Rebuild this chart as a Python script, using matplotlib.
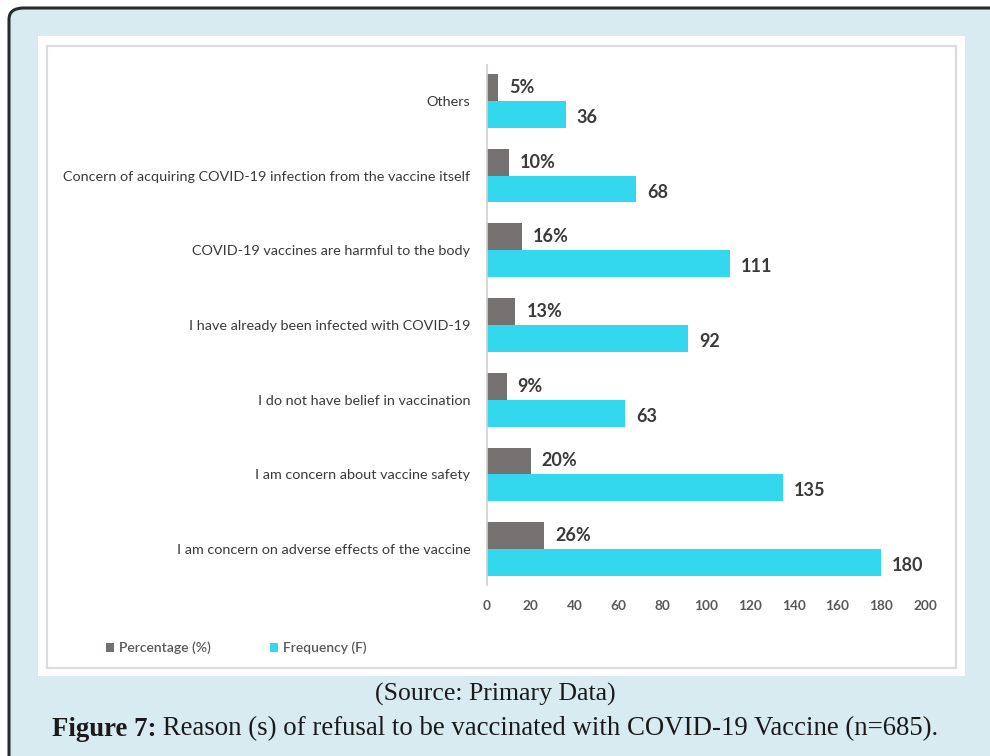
import numpy as np
import matplotlib.pyplot as plt
from matplotlib.patches import FancyBboxPatch, Rectangle

# Data (top to bottom)
reasons = [
    'Others',
    'Concern of acquiring COVID-19 infection from the vaccine itself',
    'COVID-19 vaccines are harmful to the body',
    'I have already been infected with COVID-19',
    'I do not have belief in vaccination',
    'I am concern about vaccine safety',
    'I am concern on adverse effects of the vaccine',
]
percentage = [5, 10, 16, 13, 9, 20, 26]
frequency = [36, 68, 111, 92, 63, 135, 180]
xticks = [0, 20, 40, 60, 80, 100, 120, 140, 160, 180, 200]

GRAY = '#767171'
CYAN = '#33D8EE'
TXT = '#3a3a3a'
W, H = 990, 756

fig = plt.figure(figsize=(9.9, 7.56), dpi=100)
fig.patch.set_facecolor('white')

def px(x0, y0, x1, y1):
    # pixel box (top-left origin) -> figure fraction rect
    return (x0 / W, 1 - y1 / H, (x1 - x0) / W, (y1 - y0) / H)

# outer rounded panel
x, y, w, h = px(9, 8, 1030, 800)
fig.patches.append(FancyBboxPatch((x, y), w, h, boxstyle='round,pad=0,rounding_size=0.015',
                                  transform=fig.transFigure, facecolor='#D7EBF0',
                                  edgecolor='#2a2a2a', linewidth=2.2, zorder=0))
# white chart card with light grey frame
x, y, w, h = px(38, 36, 965, 676)
fig.patches.append(Rectangle((x, y), w, h, transform=fig.transFigure,
                             facecolor='white', edgecolor='none', zorder=1))
x, y, w, h = px(47, 46, 956, 668)
fig.patches.append(Rectangle((x, y), w, h, transform=fig.transFigure,
                             facecolor='white', edgecolor='#DCDCDC', linewidth=1.6, zorder=2))

ax = fig.add_axes(px(487, 65, 925, 585))
ax.set_facecolor('none')
ax.set_zorder(3)

n = len(reasons)
ypos = np.arange(n)[::-1]
bh = 0.36
ax.barh(ypos + bh / 2, percentage, height=bh, color=GRAY, label='Percentage (%)')
ax.barh(ypos - bh / 2, frequency, height=bh, color=CYAN, label='Frequency (F)')

lab_font = dict(family=['Lato', 'DejaVu Sans'], fontsize=13, fontweight='bold', color=TXT)
for yy, p, f in zip(ypos, percentage, frequency):
    ax.text(p + 5, yy + bh / 2, f'{p}%', va='center', ha='left', **lab_font)
    ax.text(f + 5, yy - bh / 2 - 0.04, f'{f}', va='center', ha='left', **lab_font)

ax.set_xlim(0, 200)
ax.set_ylim(-0.48, n - 0.52)
ax.set_yticks(ypos)
ax.set_yticklabels(reasons, family=['Lato', 'DejaVu Sans'], fontsize=10.4, color=TXT)
ax.set_xticks(xticks)
ax.set_xticklabels([str(t) for t in xticks], family=['Lato', 'DejaVu Sans'],
                   fontsize=9.8, color='#595959', fontweight='bold')
ax.tick_params(axis='y', length=0, pad=12)
ax.tick_params(axis='x', length=0, pad=11)
for s in ['top', 'right', 'bottom']:
    ax.spines[s].set_visible(False)
ax.spines['left'].set_color('#D0D0D0')
ax.spines['left'].set_linewidth(1.2)

leg = fig.legend(loc='center left', bbox_to_anchor=(93 / W, 1 - 648 / H), ncol=2,
                 frameon=False, handlelength=0.6, handleheight=0.6, handletextpad=0.4,
                 columnspacing=4.2, prop={'family': ['Lato', 'DejaVu Sans'], 'size': 10,
                                          'weight': 'semibold'})
for t in leg.get_texts():
    t.set_color('#595959')
leg.set_zorder(4)

# caption: bold "Figure 7:" followed by regular text, centred as one line
serif = ['Liberation Serif', 'DejaVu Serif']
fig.text(0.5, 1 - 694 / H, '(Source: Primary Data)', ha='center', va='center',
         family=serif, fontsize=18.5, color='#1a1a1a')
cap_y = 1 - 729 / H
t1 = fig.text(0, cap_y, 'Figure 7:', ha='left', va='center', family=serif,
              fontsize=19.3, fontweight='bold', color='#1a1a1a')
t2 = fig.text(0, cap_y, ' Reason (s) of refusal to be vaccinated with COVID-19 Vaccine (n=685).',
              ha='left', va='center', family=serif, fontsize=19.3, color='#1a1a1a')
r = fig.canvas.get_renderer()
w1 = t1.get_window_extent(r).width / W
w2 = t2.get_window_extent(r).width / W
x0 = 0.5 - (w1 + w2) / 2
t1.set_x(x0)
t2.set_x(x0 + w1)

fig.savefig('out.png', dpi=100, facecolor=fig.get_facecolor())
